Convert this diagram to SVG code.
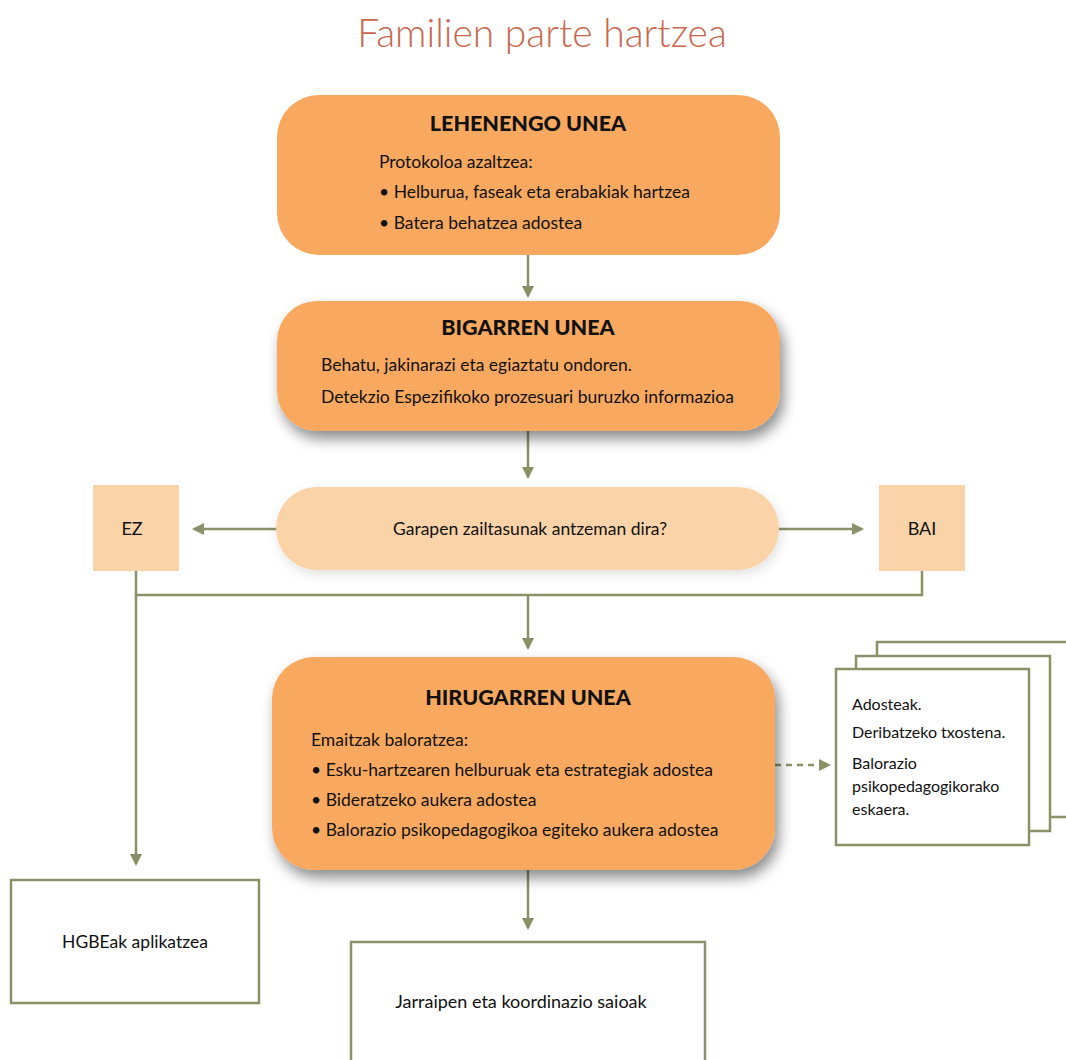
<svg xmlns="http://www.w3.org/2000/svg" width="1066" height="1060" viewBox="0 0 1066 1060">
<defs>
<style>
text{font-family:Lato,"Liberation Sans",sans-serif;fill:#111}
.title{font-size:39px;font-weight:300;fill:#c9674c;text-anchor:middle}
.h{font-size:21.5px;font-weight:900;text-anchor:middle}
.t{font-size:17.5px}
.m{font-size:18px}
.c{text-anchor:middle}
.s{font-size:16px}
.main{fill:#f8a95f}
.light{fill:#fbd3a8}
.box{fill:#fff;stroke:#8a9168;stroke-width:2.5}
.ln{fill:none;stroke:#8a9168;stroke-width:2.5}
</style>
<marker id="ah" markerWidth="12" markerHeight="12" refX="10" refY="6" orient="auto" markerUnits="userSpaceOnUse">
<path d="M0,0 L12,6 L0,12 Z" fill="#8a9168"/>
</marker>
<filter id="sh" x="-10%" y="-10%" width="125%" height="140%">
<feDropShadow dx="4" dy="8" stdDeviation="7" flood-color="#000" flood-opacity="0.45"/>
</filter>
<filter id="sh2" x="-10%" y="-20%" width="125%" height="150%">
<feDropShadow dx="2" dy="4" stdDeviation="6" flood-color="#000" flood-opacity="0.12"/>
</filter>
</defs>
<rect width="1066" height="1060" fill="#fff"/>
<text class="title" x="542" y="47">Familien parte hartzea</text>

<g id="connectors">
<line class="ln" x1="528" y1="255" x2="528" y2="296" marker-end="url(#ah)"/>
<line class="ln" x1="528" y1="431" x2="528" y2="477" marker-end="url(#ah)"/>
<line class="ln" x1="276" y1="529" x2="194" y2="529" marker-end="url(#ah)"/>
<line class="ln" x1="779" y1="529" x2="862" y2="529" marker-end="url(#ah)"/>
<polyline class="ln" points="136,571 136,595 922,595 922,571"/>
<line class="ln" x1="528" y1="595" x2="528" y2="648" marker-end="url(#ah)"/>
<line class="ln" x1="136" y1="595" x2="136" y2="864" marker-end="url(#ah)"/>
<line class="ln" x1="775" y1="765" x2="829" y2="765" stroke-dasharray="6,5" marker-end="url(#ah)"/>
<line class="ln" x1="528" y1="870" x2="528" y2="928" marker-end="url(#ah)"/>
</g>

<g id="n1">
<rect class="main" x="277" y="95" width="503" height="160" rx="42"/>
<text class="h" x="528" y="131">LEHENENGO UNEA</text>
<text class="t" x="379" y="168">Protokoloa azaltzea:</text>
<text class="t" x="379" y="198">• Helburua, faseak eta erabakiak hartzea</text>
<text class="t" x="379" y="229">• Batera behatzea adostea</text>
</g>

<g id="n2">
<rect class="main" x="277" y="301" width="503" height="130" rx="40" filter="url(#sh)"/>
<text class="h" x="528" y="335">BIGARREN UNEA</text>
<text class="t" x="321" y="371">Behatu, jakinarazi eta egiaztatu ondoren.</text>
<text class="t" x="321" y="403">Detekzio Espezifikoko prozesuari buruzko informazioa</text>
</g>

<g id="decision">
<rect class="light" x="276" y="487" width="503" height="83" rx="41" filter="url(#sh2)"/>
<text class="t c" x="530" y="535">Garapen zailtasunak antzeman dira?</text>
</g>

<g id="ez">
<rect class="light" x="93" y="485" width="86" height="86"/>
<text class="m c" x="132" y="535">EZ</text>
</g>

<g id="bai">
<rect class="light" x="879" y="485" width="86" height="86"/>
<text class="m c" x="922" y="535">BAI</text>
</g>

<g id="n3">
<rect class="main" x="272" y="657" width="503" height="213" rx="42" filter="url(#sh)"/>
<text class="h" x="528" y="705">HIRUGARREN UNEA</text>
<text class="t" x="311" y="746">Emaitzak baloratzea:</text>
<text class="t" x="311" y="776">• Esku-hartzearen helburuak eta estrategiak adostea</text>
<text class="t" x="311" y="806">• Bideratzeko aukera adostea</text>
<text class="t" x="311" y="836">• Balorazio psikopedagogikoa egiteko aukera adostea</text>
</g>

<g id="docs">
<rect class="box" x="877" y="642" width="200" height="175"/>
<rect class="box" x="856" y="656" width="194" height="175"/>
<rect class="box" x="836" y="669" width="193" height="176"/>
<text class="s" x="852" y="710">Adosteak.</text>
<text class="s" x="852" y="738">Deribatzeko txostena.</text>
<text class="s" x="852" y="769">Balorazio</text>
<text class="s" x="852" y="792">psikopedagogikorako</text>
<text class="s" x="852" y="815">eskaera.</text>
</g>

<g id="hgbe">
<rect class="box" x="11" y="880" width="248" height="123"/>
<text class="t c" x="135" y="948">HGBEak aplikatzea</text>
</g>

<g id="jarraipen">
<rect class="box" x="351" y="942" width="354" height="130"/>
<text class="m c" x="521" y="1008">Jarraipen eta koordinazio saioak</text>
</g>
</svg>
